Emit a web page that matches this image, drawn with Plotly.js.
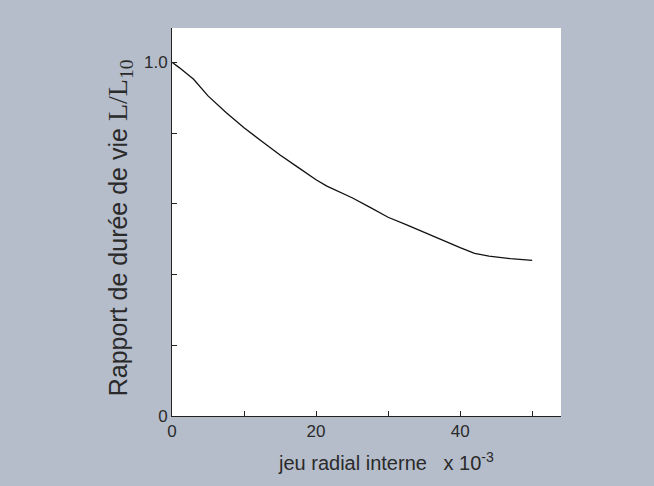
<!DOCTYPE html>
<html>
<head>
<meta charset="utf-8">
<script src="https://cdn.plot.ly/plotly-3.0.1.min.js"></script>
<style>html,body{margin:0;padding:0;background:#b5bdca;}</style>
</head>
<body>
<div id="chart" style="width:654px;height:486px;"></div>
<script>
// Internal radial clearance (x 10^-3) and life ratio L/L10
const clearance = [0, 1, 3, 5, 7.5, 10, 12.5, 15, 17.5, 20, 21.5, 23, 25, 27.5, 30, 32.5, 35, 37.5, 40, 42, 44, 47, 50];
const lifeRatio = [1.0, 0.985, 0.952, 0.905, 0.858, 0.815, 0.776, 0.738, 0.703, 0.668, 0.650, 0.636, 0.617, 0.590, 0.562, 0.541, 0.519, 0.498, 0.476, 0.460, 0.452, 0.445, 0.440];
const xTickVals = [0, 10, 20, 30, 40, 50];
const xTickText = ['0', '', '20', '', '40', ''];
const yTickVals = [0, 0.2, 0.4, 0.6, 0.8, 1.0];
const yTickText = ['0', '', '', '', '', '1.0'];

const trace = {
  x: clearance, y: lifeRatio, type: 'scatter', mode: 'lines',
  line: {color: '#111', width: 1.3}, hoverinfo: 'skip'
};
const tickFont = {family: 'Liberation Sans, Arial, sans-serif', size: 17, color: '#2a2a2a'};
const titleFont = {family: 'Liberation Sans, Arial, sans-serif', size: 20, color: '#2a2a2a'};
const yTitleFont = {family: 'Liberation Sans, Arial, sans-serif', size: 25, color: '#2a2a2a'};
const layout = {
  width: 654, height: 486,
  paper_bgcolor: '#b5bdca', plot_bgcolor: '#ffffff',
  margin: {l: 172, r: 93, t: 28, b: 70},
  showlegend: false,
  font: tickFont,
  xaxis: {
    range: [0, 54], tickvals: xTickVals, ticktext: xTickText,
    ticks: 'inside', ticklen: 5, tickcolor: '#222', tickwidth: 1,
    showline: true, linecolor: '#222', linewidth: 1, showgrid: false, zeroline: false,
    tickfont: tickFont, fixedrange: true
  },
  yaxis: {
    range: [0, 1.097], tickvals: yTickVals, ticktext: yTickText,
    ticks: 'inside', ticklen: 5, tickcolor: '#222', tickwidth: 1,
    showline: true, linecolor: '#222', linewidth: 1, showgrid: false, zeroline: false,
    tickfont: tickFont, fixedrange: true
  },
  annotations: [
    {xref: 'paper', yref: 'paper', x: 0.55, y: -0.118, xanchor: 'center', yanchor: 'middle',
     text: 'jeu radial interne&nbsp;&nbsp;&nbsp;x 10<sup>-3</sup>', showarrow: false, font: titleFont},
    {xref: 'paper', yref: 'paper', x: -0.134, y: 0.486, xanchor: 'center', yanchor: 'middle', textangle: -90,
     text: 'Rapport de durée de vie <span style="font-family:Liberation Serif, Times New Roman, serif;font-size:28px">L/L<sub>10</sub></span>',
     showarrow: false, font: yTitleFont}
  ]
};
Plotly.newPlot('chart', [trace], layout, {staticPlot: true});
</script>
</body>
</html>
